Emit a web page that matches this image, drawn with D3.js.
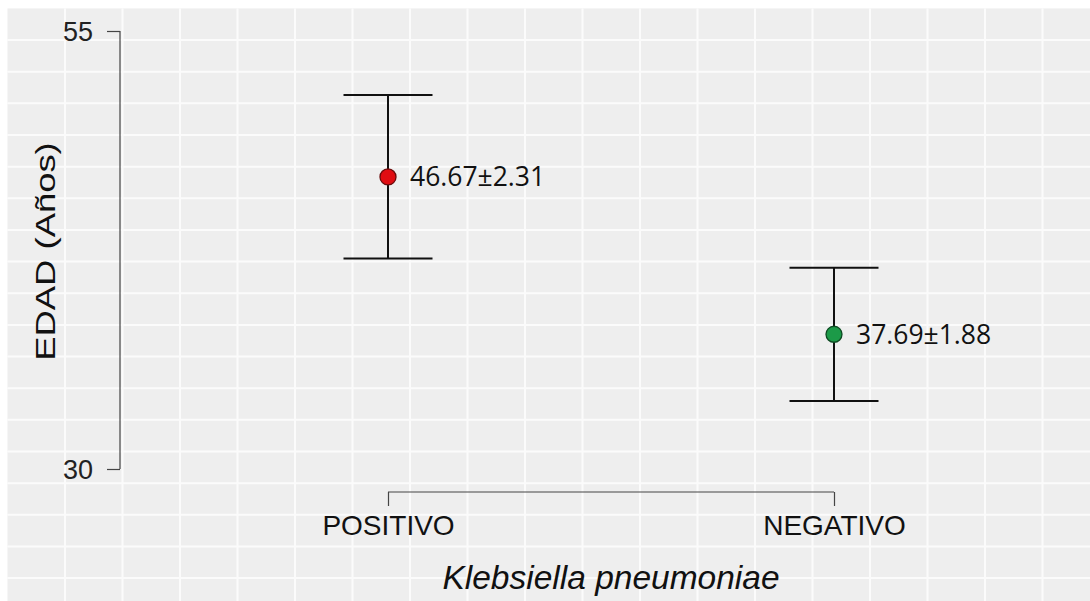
<!DOCTYPE html>
<html><head><meta charset="utf-8">
<script src="https://cdn.jsdelivr.net/npm/d3@7"></script>
<style>html,body{margin:0;padding:0;background:#fff;}svg{display:block;}</style>
</head><body>
<svg id="chart" width="1090" height="601"></svg>
<script>
// ---- data ----
const categories = ["POSITIVO", "NEGATIVO"];
const means = [46.67, 37.69];
const ses = [2.31, 1.88];
const upper = [51.35, 41.49];
const lower = [42.02, 33.88];
const labels = ["46.67±2.31", "37.69±1.88"];
const pointColors = ["#e00d12", "#1c9a48"];
const pointStrokes = ["#6a0a0a", "#0d4a22"];
const yTicks = [30, 55];
const yTitle = "EDAD (Años)";
const xTitle = "Klebsiella pneumoniae";

const svg = d3.select("#chart");
const W = 1090, H = 601;

// background panel with grid
const bgX0 = 7.5, bgY0 = 8.4, gx = 57.5, gy = 31.65;
svg.append("rect").attr("x", bgX0).attr("y", bgY0).attr("width", W - bgX0).attr("height", H - bgY0).attr("fill", "#eeeeee");
const grid = svg.append("g").attr("stroke", "#ffffff").attr("stroke-width", 2).attr("opacity", 0.8);
d3.range(bgX0 + gx, W, gx).forEach(x => grid.append("line").attr("x1", x).attr("x2", x).attr("y1", bgY0).attr("y2", H));
d3.range(bgY0 + gy, H, gy).forEach(y => grid.append("line").attr("x1", bgX0).attr("x2", W).attr("y1", y).attr("y2", y));

// scales
const y = d3.scaleLinear().domain([30, 55]).range([469, 31]);
const x = d3.scalePoint().domain(categories).range([388, 834]);

// y axis (range frame)
const yAxis = svg.append("g").attr("transform", "translate(120,0)")
  .call(d3.axisLeft(y).tickValues(yTicks).tickSize(13).tickPadding(14).tickFormat(d3.format("d")));
yAxis.select(".domain").attr("stroke", "#444").attr("stroke-width", 1.2).attr("d", `M0,${y(55)}V${y(30)}`);
yAxis.selectAll(".tick line").attr("stroke", "#444").attr("stroke-width", 1.2);
yAxis.selectAll(".tick text").attr("font-family", "Liberation Sans, Arial, sans-serif").attr("font-size", 27).attr("fill", "#222").attr("dy", "0.36em");

// x axis (range frame)
const xAxis = svg.append("g").attr("transform", "translate(0,492)")
  .call(d3.axisBottom(x).tickSizeInner(-14).tickSizeOuter(0).tickPadding(0));
xAxis.select(".domain").attr("stroke", "#444").attr("stroke-width", 1.2).attr("d", `M${x(categories[0])},0H${x(categories[1])}`);
xAxis.selectAll(".tick line").attr("stroke", "#444").attr("stroke-width", 1.2).attr("y1", 0).attr("y2", 14);
xAxis.selectAll(".tick text").attr("font-family", "Liberation Sans, Arial, sans-serif").attr("font-size", 28).attr("fill", "#111").attr("y", 43).attr("dy", 0);

// titles
svg.append("text")
  .attr("transform", `translate(55,251.5) rotate(-90) scale(1.3,1)`)
  .attr("text-anchor", "middle")
  .attr("font-family", "Liberation Sans, Arial, sans-serif").attr("font-size", 28).attr("fill", "#111")
  .text(yTitle);
svg.append("text")
  .attr("x", 611).attr("y", 589).attr("text-anchor", "middle")
  .attr("font-family", "Liberation Sans, Arial, sans-serif").attr("font-size", 33.5).attr("font-style", "italic").attr("fill", "#111")
  .text(xTitle);

// error bars
const capHalf = 44.5;
const eb = svg.append("g").attr("stroke", "#111").attr("stroke-width", 2);
categories.forEach((c, i) => {
  const cx = x(c);
  eb.append("line").attr("x1", cx).attr("x2", cx).attr("y1", y(upper[i])).attr("y2", y(lower[i]));
  eb.append("line").attr("x1", cx - capHalf).attr("x2", cx + capHalf).attr("y1", y(upper[i])).attr("y2", y(upper[i]));
  eb.append("line").attr("x1", cx - capHalf).attr("x2", cx + capHalf).attr("y1", y(lower[i])).attr("y2", y(lower[i]));
});

// points
svg.append("g").selectAll("circle").data(categories).join("circle")
  .attr("cx", d => x(d)).attr("cy", (d, i) => y(means[i])).attr("r", 8)
  .attr("fill", (d, i) => pointColors[i]).attr("stroke", (d, i) => pointStrokes[i]).attr("stroke-width", 1.3);

// value labels
svg.append("g").selectAll("text").data(categories).join("text")
  .attr("x", d => x(d) + 22).attr("y", (d, i) => y(means[i]) + 9.5)
  .attr("font-family", "Open Sans, Lato, sans-serif").attr("font-size", 26.5).attr("fill", "#111")
  .text((d, i) => labels[i]);
</script>
</body></html>
